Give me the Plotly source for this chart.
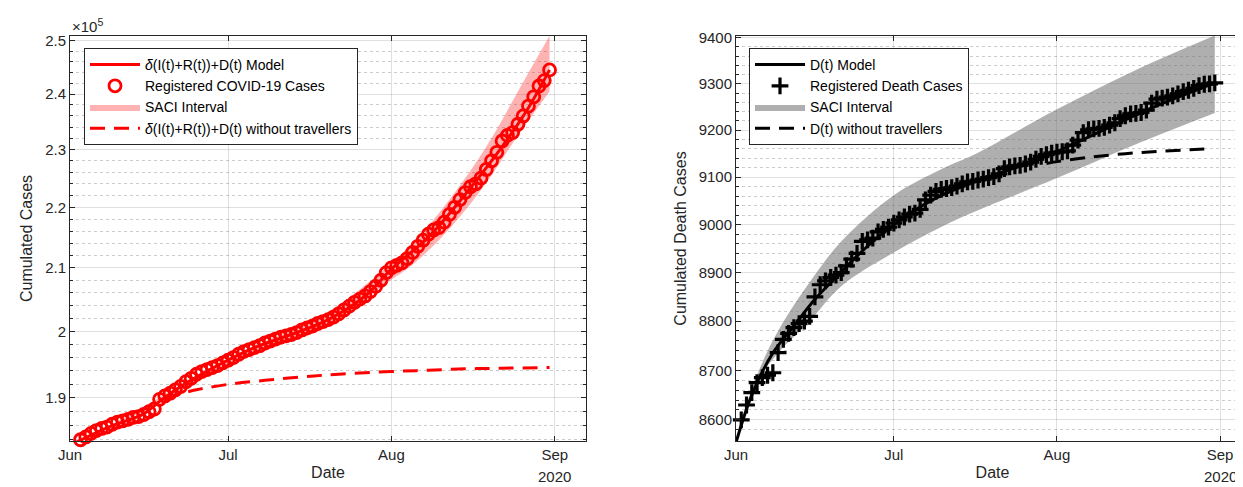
import plotly.graph_objects as go
import pandas as pd
import numpy as np

# ---------------- data ----------------
days = pd.date_range("2020-06-01", "2020-08-31", freq="D")

cases_e5 = [
    1.832, 1.836, 1.840, 1.844, 1.849, 1.853, 1.856, 1.858, 1.862, 1.865,
    1.867, 1.869, 1.872, 1.873, 1.876, 1.880, 1.884, 1.898, 1.903, 1.907,
    1.912, 1.917, 1.924, 1.929, 1.935, 1.939, 1.942, 1.945, 1.948, 1.952,
    1.956, 1.960, 1.965, 1.969, 1.972, 1.975, 1.978, 1.982, 1.985, 1.988,
    1.991, 1.993, 1.995, 1.998, 2.002, 2.005, 2.008, 2.012, 2.015, 2.018,
    2.022, 2.027, 2.033, 2.039, 2.045, 2.050, 2.055, 2.062, 2.070, 2.080,
    2.092,
    2.100, 2.104, 2.108, 2.115, 2.125, 2.135, 2.145, 2.155, 2.162, 2.166,
    2.175, 2.188, 2.200, 2.213, 2.225, 2.235, 2.240, 2.250, 2.265, 2.280,
    2.295, 2.315, 2.325, 2.330, 2.345, 2.360, 2.378, 2.395, 2.415, 2.425,
    2.445,
]

model_c_dates = ["2020-06-01", "2020-06-08", "2020-06-15", "2020-06-18", "2020-06-22",
                 "2020-06-29", "2020-07-06", "2020-07-13", "2020-07-20", "2020-07-27",
                 "2020-08-01", "2020-08-08", "2020-08-15", "2020-08-22", "2020-08-27",
                 "2020-08-31"]
model_c_e5 = [1.832, 1.857, 1.877, 1.895, 1.917, 1.948, 1.975, 1.995, 2.018, 2.055,
              2.098, 2.150, 2.222, 2.305, 2.375, 2.445]

band_c_dates = ["2020-06-01", "2020-06-10", "2020-06-20", "2020-06-30", "2020-07-10",
                "2020-07-20", "2020-07-31", "2020-08-05", "2020-08-10", "2020-08-15",
                "2020-08-20", "2020-08-25", "2020-08-31"]
band_c_up_e5 = [1.832, 1.866, 1.910, 1.955, 1.992, 2.030, 2.100, 2.140, 2.190, 2.250,
                2.320, 2.405, 2.510]
band_c_lo_e5 = [1.832, 1.862, 1.902, 1.945, 1.980, 2.010, 2.075, 2.105, 2.145, 2.195,
                2.255, 2.325, 2.405]

notrav_c_dates = ["2020-06-19", "2020-06-25", "2020-07-01", "2020-07-08", "2020-07-15",
                  "2020-07-22", "2020-08-01", "2020-08-08", "2020-08-15", "2020-08-22",
                  "2020-08-31"]
notrav_c_e5 = [1.900, 1.912, 1.920, 1.926, 1.931, 1.935, 1.939, 1.941, 1.943, 1.944, 1.945]

deaths = [
    8555, 8600, 8630, 8655, 8675, 8685, 8690, 8695, 8736, 8763,
    8775, 8787, 8795, 8800, 8810, 8850, 8875, 8883, 8890, 8895,
    8900, 8914, 8928, 8940, 8965, 8968, 8972, 8985, 8990, 8995,
    9003, 9010, 9016, 9022, 9024, 9032, 9052, 9062, 9070, 9074,
    9076, 9078, 9081, 9086, 9090, 9091, 9094, 9096, 9099, 9101,
    9107, 9118, 9122, 9124, 9125, 9128, 9132, 9138, 9144, 9148,
    9151,
    9153, 9154, 9156, 9168, 9179, 9195, 9201, 9203, 9204, 9206,
    9211, 9216, 9225, 9231, 9235, 9236, 9238, 9243, 9258, 9267,
    9269, 9271, 9274, 9278, 9283, 9286, 9290, 9296, 9299, 9300,
    9302,
]

model_d_dates = ["2020-06-01", "2020-06-04", "2020-06-08", "2020-06-12", "2020-06-16",
                 "2020-06-20", "2020-06-25", "2020-07-01", "2020-07-08", "2020-07-15",
                 "2020-07-22", "2020-07-29", "2020-08-05", "2020-08-12", "2020-08-19",
                 "2020-08-26", "2020-08-31"]
model_d = [8555, 8650, 8735, 8790, 8845, 8890, 8945, 9000, 9050, 9085,
           9112, 9140, 9175, 9212, 9248, 9280, 9302]

band_d_dates = ["2020-06-01", "2020-06-05", "2020-06-09", "2020-06-15", "2020-06-21",
                "2020-07-01", "2020-07-10", "2020-07-17", "2020-08-01", "2020-08-16",
                "2020-08-31"]
band_d_up = [8555, 8690, 8780, 8880, 8965, 9062, 9117, 9152, 9245, 9330, 9405]
band_d_lo = [8555, 8675, 8735, 8800, 8872, 8942, 8995, 9030, 9098, 9170, 9237]

notrav_d_dates = ["2020-07-30", "2020-08-01", "2020-08-07", "2020-08-14", "2020-08-21",
                  "2020-08-29"]
notrav_d = [9129, 9133, 9142, 9150, 9155, 9160]

month_ticks = ["2020-06-01", "2020-07-01", "2020-08-01", "2020-09-01"]
month_labels = ["Jun", "Jul", "Aug", "Sep"]
case_ticks_e5 = [1.9, 2.0, 2.1, 2.2, 2.3, 2.4, 2.5]
case_tick_labels = ["1.9", "2", "2.1", "2.2", "2.3", "2.4", "2.5"]
death_ticks = [8600, 8700, 8800, 8900, 9000, 9100, 9200, 9300, 9400]

SCALE = 1e5
cases = [v * SCALE for v in cases_e5]

# ---------------- figure ----------------
fig = go.Figure()
RED = "#ff0000"
FONT = "Liberation Sans, Arial, Helvetica, sans-serif"
DASH = "15px,9px"

# Left panel
fig.add_trace(go.Scatter(x=band_c_dates, y=[v * SCALE for v in band_c_lo_e5], mode="lines",
                         line=dict(width=0, color="rgba(255,0,0,0)", shape="spline"),
                         showlegend=False, hoverinfo="skip", xaxis="x", yaxis="y"))
fig.add_trace(go.Scatter(x=band_c_dates, y=[v * SCALE for v in band_c_up_e5], mode="lines",
                         line=dict(width=0, color="rgba(255,0,0,0)", shape="spline"),
                         fill="tonexty", fillcolor="rgba(255,0,0,0.3)", name="SACI Interval",
                         legend="legend", legendrank=3, xaxis="x", yaxis="y"))
fig.add_trace(go.Scatter(x=notrav_c_dates, y=[v * SCALE for v in notrav_c_e5], mode="lines",
                         line=dict(color=RED, width=3, dash=DASH, shape="spline"),
                         name="<i>δ</i>(I(t)+R(t))+D(t) without travellers",
                         legend="legend", legendrank=4, xaxis="x", yaxis="y"))
fig.add_trace(go.Scatter(x=model_c_dates, y=[v * SCALE for v in model_c_e5], mode="lines",
                         line=dict(color=RED, width=3, shape="spline"),
                         name="<i>δ</i>(I(t)+R(t))+D(t) Model",
                         legend="legend", legendrank=1, xaxis="x", yaxis="y"))
fig.add_trace(go.Scatter(x=days, y=cases, mode="markers",
                         marker=dict(symbol="circle-open", size=12, color=RED,
                                     line=dict(width=2.8, color=RED)),
                         name="Registered COVID-19 Cases", cliponaxis=False,
                         legend="legend", legendrank=2, xaxis="x", yaxis="y"))

# Right panel
fig.add_trace(go.Scatter(x=band_d_dates, y=band_d_lo, mode="lines",
                         line=dict(width=0, color="rgba(0,0,0,0)", shape="spline"),
                         showlegend=False, hoverinfo="skip", xaxis="x2", yaxis="y2"))
fig.add_trace(go.Scatter(x=band_d_dates, y=band_d_up, mode="lines",
                         line=dict(width=0, color="rgba(0,0,0,0)", shape="spline"),
                         fill="tonexty", fillcolor="rgba(110,110,110,0.55)", name="SACI Interval",
                         legend="legend2", legendrank=3, xaxis="x2", yaxis="y2"))
fig.add_trace(go.Scatter(x=notrav_d_dates, y=notrav_d, mode="lines",
                         line=dict(color="black", width=3, dash=DASH, shape="spline"),
                         name="D(t) without travellers",
                         legend="legend2", legendrank=4, xaxis="x2", yaxis="y2"))
fig.add_trace(go.Scatter(x=model_d_dates, y=model_d, mode="lines",
                         line=dict(color="black", width=3, shape="spline"),
                         name="D(t) Model",
                         legend="legend2", legendrank=1, xaxis="x2", yaxis="y2"))
fig.add_trace(go.Scatter(x=days, y=deaths, mode="markers",
                         marker=dict(symbol="cross-thin", size=12, color="black",
                                     line=dict(width=3.2, color="black")),
                         name="Registered Death Cases", cliponaxis=False,
                         legend="legend2", legendrank=2, xaxis="x2", yaxis="y2"))

W, H = 1243, 487
L1, R1 = 62, 578
L2, R2 = 728, 1241
TOP, BOT = 28, 433

axis_col = "#262626"
grid_major = "rgba(0,0,0,0.12)"
grid_minor = "rgba(0,0,0,0.2)"


def xaxis_cfg(dom, anchor, end):
    return dict(type="date", range=["2020-06-01", end], automargin=False,
                domain=dom, anchor=anchor,
                tickmode="array", tickvals=month_ticks, ticktext=month_labels,
                ticks="inside", ticklen=5, tickcolor=axis_col,
                showline=True, linecolor=axis_col, linewidth=1, mirror="ticks",
                showgrid=True, gridcolor=grid_major, gridwidth=1, zeroline=False,
                tickfont=dict(family=FONT, size=15, color=axis_col),
                title=dict(text="Date", font=dict(family=FONT, size=16, color=axis_col),
                           standoff=4))


case_minor = [v * SCALE for v in np.round(np.arange(1.84, 2.52, 0.02), 2) if round(v * 10, 4) % 1 != 0]
death_minor = [v for v in range(8560, 9420, 20) if v % 100 != 0]

fig.update_layout(
    template="none",
    width=W, height=H,
    margin=dict(l=0, r=0, t=0, b=0, autoexpand=False),
    paper_bgcolor="white", plot_bgcolor="white",
    font=dict(family=FONT, color=axis_col),
    xaxis=xaxis_cfg([L1 / W, R1 / W], "y", "2020-09-06 22:00"),
    xaxis2=xaxis_cfg([L2 / W, R2 / W], "y2", "2020-09-06 12:00"),
    yaxis=dict(domain=[1 - BOT / H, 1 - TOP / H], anchor="x", type="log", automargin=False,
               range=[np.log10(1.8382e5), np.log10(2.5096e5)],
               tickmode="array", tickvals=[v * SCALE for v in case_ticks_e5],
               ticktext=case_tick_labels,
               ticks="inside", ticklen=5, tickcolor=axis_col,
               showline=True, linecolor=axis_col, linewidth=1, mirror="ticks",
               showgrid=True, gridcolor=grid_major, zeroline=False,
               minor=dict(tickmode="array", tickvals=case_minor, ticks="inside", ticklen=3,
                          tickcolor=axis_col, showgrid=True, gridcolor=grid_minor,
                          griddash="dot", gridwidth=1),
               tickfont=dict(family=FONT, size=15, color=axis_col),
               title=dict(text="Cumulated Cases", font=dict(family=FONT, size=16, color=axis_col),
                          standoff=8)),
    yaxis2=dict(domain=[1 - BOT / H, 1 - TOP / H], anchor="x2", type="log", automargin=False,
                range=[np.log10(8558), np.log10(9404)],
                tickmode="array", tickvals=death_ticks,
                ticktext=[str(v) for v in death_ticks],
                ticks="inside", ticklen=5, tickcolor=axis_col,
                showline=True, linecolor=axis_col, linewidth=1, mirror="ticks",
                showgrid=True, gridcolor=grid_major, zeroline=False,
                minor=dict(tickmode="array", tickvals=death_minor, ticks="inside", ticklen=3,
                           tickcolor=axis_col, showgrid=True, gridcolor=grid_minor,
                           griddash="dot", gridwidth=1),
                tickfont=dict(family=FONT, size=15, color=axis_col),
                title=dict(text="Cumulated Death Cases",
                           font=dict(family=FONT, size=16, color=axis_col), standoff=8)),
    legend=dict(x=76 / W, y=1 - 40 / H, xanchor="left", yanchor="top",
                bgcolor="white", bordercolor=axis_col, borderwidth=1,
                font=dict(family=FONT, size=14, color="black"),
                traceorder="normal", tracegroupgap=0, itemwidth=50),
    legend2=dict(x=741 / W, y=1 - 40 / H, xanchor="left", yanchor="top",
                 bgcolor="white", bordercolor=axis_col, borderwidth=1,
                 font=dict(family=FONT, size=14, color="black"),
                 traceorder="normal", tracegroupgap=0, itemwidth=50),
    showlegend=True,
)

fig.add_annotation(x=L1 / W, y=1 - 17 / H, xref="paper", yref="paper",
                   text="×10<sup>5</sup>", showarrow=False, xanchor="left", yanchor="middle",
                   font=dict(family=FONT, size=15, color=axis_col))
for xd in ["x", "x2"]:
    fig.add_annotation(x="2020-09-01", y=1 - 468 / H, xref=xd, yref="paper",
                       text="2020", showarrow=False, xanchor="center", yanchor="middle",
                       font=dict(family=FONT, size=15, color=axis_col))

fig.write_html("out.html")
